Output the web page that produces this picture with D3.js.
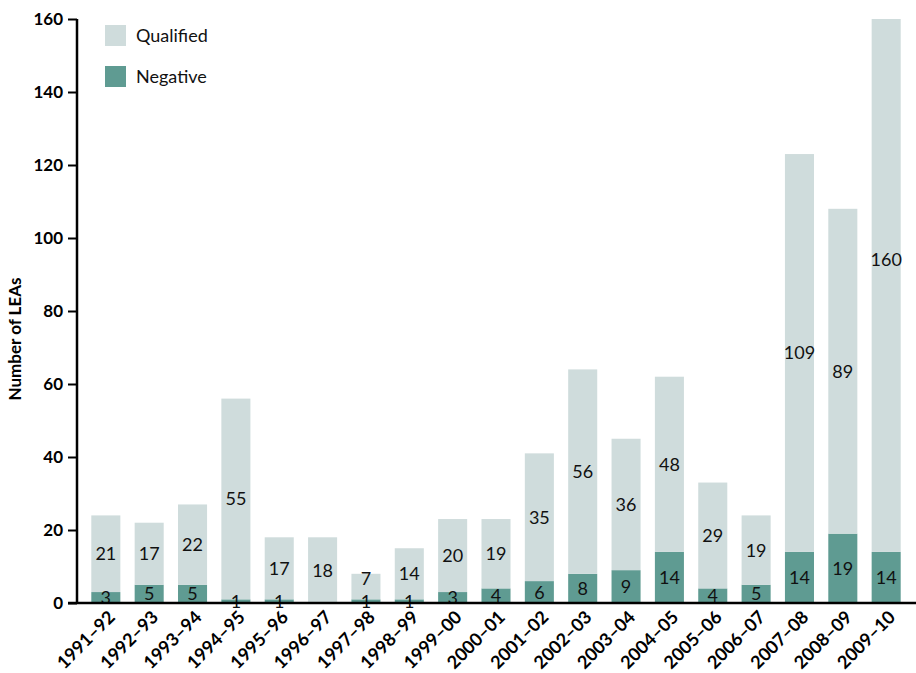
<!DOCTYPE html>
<html>
<head>
<meta charset="utf-8">
<script src="https://cdn.jsdelivr.net/npm/d3@7"></script>
<style>
  body { margin: 0; background: #fff; }
  svg { display: block; font-family: "Lato", "Open Sans", sans-serif; }
</style>
</head>
<body>
<svg id="chart" width="916" height="673"></svg>
<script>
const categories = ["1991–92","1992–93","1993–94","1994–95","1995–96","1996–97","1997–98","1998–99","1999–00","2000–01","2001–02","2002–03","2003–04","2004–05","2005–06","2006–07","2007–08","2008–09","2009–10"];
const negative  = [3, 5, 5, 1, 1, 0, 1, 1, 3, 4, 6, 8, 9, 14, 4, 5, 14, 19, 14];
const qualified = [21, 17, 22, 55, 17, 18, 7, 14, 20, 19, 35, 56, 36, 48, 29, 19, 109, 89, 160];
const yTicks = [0, 20, 40, 60, 80, 100, 120, 140, 160];
const seriesNames = ["Qualified", "Negative"];
const colors = { Qualified: "#cfdcdc", Negative: "#5f9b92" };

const svg = d3.select("#chart");
const mLeft = 77, mRight = 915, mTop = 19, mBottom = 603;

const x = d3.scaleBand().domain(categories).range([mLeft, mRight]).paddingInner(0.33).paddingOuter(0.33);
const y = d3.scaleLinear().domain([0, 160]).range([mBottom, mTop]);

const data = categories.map((c, i) => ({ cat: c, Negative: negative[i], Qualified: qualified[i] }));
const stack = d3.stack().keys(["Negative", "Qualified"])(data);

svg.append("defs").append("clipPath").attr("id", "plotclip")
  .append("rect").attr("x", mLeft).attr("y", mTop).attr("width", mRight - mLeft + 2).attr("height", mBottom - mTop);

const g = svg.append("g").attr("clip-path", "url(#plotclip)");
stack.forEach(layer => {
  g.selectAll(null).data(layer).enter().append("rect")
    .attr("x", d => x(d.data.cat))
    .attr("width", x.bandwidth())
    .attr("y", d => y(d[1]))
    .attr("height", d => y(d[0]) - y(d[1]))
    .attr("fill", colors[layer.key]);
});

// value labels (qualified label nudged up if it would collide with the negative label)
const labelY = {};
stack.forEach(layer => {
  svg.selectAll(null).data(layer.filter(d => d[1] - d[0] > 0)).enter().append("text")
    .attr("x", d => x(d.data.cat) + x.bandwidth() / 2)
    .attr("y", d => {
      let yy = y((d[0] + d[1]) / 2);
      const prev = labelY[d.data.cat];
      if (prev !== undefined && prev - yy < 23) yy = prev - 23;
      labelY[d.data.cat] = yy;
      return yy;
    })
    .attr("dy", "0.36em")
    .attr("text-anchor", "middle")
    .attr("font-size", 18)
    .attr("fill", "#111")
    .text(d => d[1] - d[0]);
});

// y axis
const yAxis = svg.append("g").attr("transform", `translate(${mLeft},0)`)
  .call(d3.axisLeft(y).tickValues(yTicks).tickSize(9).tickPadding(5));
yAxis.select(".domain").attr("stroke", "#000").attr("stroke-width", 2.5).attr("d", `M0,${mTop}V${mBottom}`);
yAxis.selectAll(".tick line").attr("stroke", "#000").attr("stroke-width", 2);
yAxis.selectAll(".tick text").attr("font-size", 17).attr("font-weight", "bold").attr("fill", "#000")
  .attr("font-family", "Lato, sans-serif");

// x axis
const xAxis = svg.append("g").attr("transform", `translate(0,${mBottom})`)
  .call(d3.axisBottom(x).tickSize(0).tickPadding(0));
xAxis.select(".domain").attr("stroke", "#000").attr("stroke-width", 2.5).attr("d", `M${mLeft - 9},0H916`);
xAxis.selectAll(".tick text")
  .attr("font-size", 18).attr("font-weight", "bold").attr("fill", "#000")
  .attr("font-family", "Lato, sans-serif")
  .attr("text-anchor", "end")
  .attr("dy", null)
  .attr("transform", "translate(7,12) rotate(-45)")
  .attr("y", 0).attr("x", 0)
  .attr("dominant-baseline", "middle");

// y title
svg.append("text")
  .attr("transform", `translate(17,339) rotate(-90)`)
  .attr("text-anchor", "middle")
  .attr("dominant-baseline", "middle")
  .attr("font-size", 17).attr("font-weight", "bold")
  .text("Number of LEAs");

// legend
const lg = svg.append("g").attr("transform", "translate(105,25)");
seriesNames.forEach((s, i) => {
  lg.append("rect").attr("x", 0).attr("y", i * 41).attr("width", 21).attr("height", 21).attr("fill", colors[s]);
  lg.append("text").attr("x", 31).attr("y", i * 41 + 11).attr("dy", "0.36em")
    .attr("font-size", 18).attr("fill", "#111").text(s);
});
</script>
</body>
</html>
